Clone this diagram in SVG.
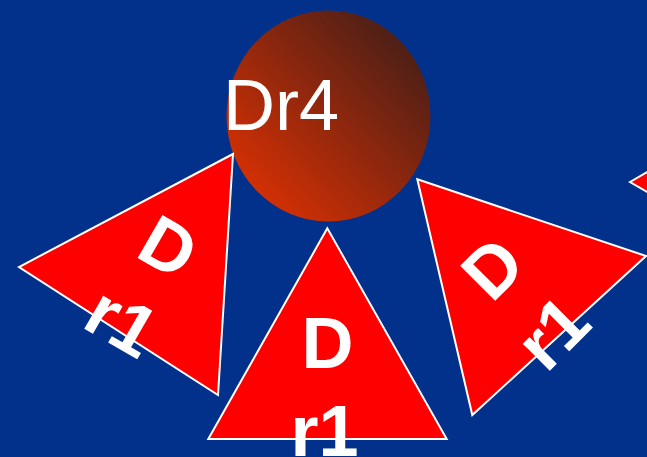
<svg xmlns="http://www.w3.org/2000/svg" width="647" height="457" viewBox="0 0 647 457">
<defs>
<linearGradient id="ball" x1="0" y1="1" x2="1" y2="0">
<stop offset="0" stop-color="#ee3300"/>
<stop offset="1" stop-color="#331c1a"/>
</linearGradient>
<style>
.tri{fill:#ff0000;stroke:#ffffff;stroke-width:2;stroke-linejoin:miter}
.lbl{font-family:"Liberation Sans",Arial,sans-serif;font-weight:bold;font-size:72px;fill:#ffffff;text-anchor:middle}
.big{font-family:"Liberation Sans",Arial,sans-serif;font-size:72px;fill:#ffffff}
</style>
</defs>
<rect x="0" y="0" width="647" height="457" fill="#01318b"/>
<g id="connectors"></g>
<g id="dr4">
<ellipse cx="328.5" cy="116" rx="102" ry="105.5" fill="url(#ball)"/>
<text class="big" x="223" y="130">Dr4</text>
</g>
<g id="tri-left">
<polygon class="tri" points="233,154 19,267 218,395"/>
<g transform="translate(169,246) rotate(30)">
<text class="lbl" x="0" y="26">D</text>
<text class="lbl" x="-3" y="114">r1</text>
</g>
</g>
<g id="tri-mid">
<polygon class="tri" points="327.3,228.3 208.3,439 446.7,439"/>
<g transform="translate(327.5,341.5)">
<text class="lbl" x="0" y="26">D</text>
<text class="lbl" x="-3" y="114">r1</text>
</g>
</g>
<g id="tri-right">
<polygon class="tri" points="417.3,179.3 646,256 472.3,415"/>
<g transform="translate(491.7,267.5) rotate(-45)">
<text class="lbl" x="0" y="26">D</text>
<text class="lbl" x="-3" y="114">r1</text>
</g>
</g>
<g id="tri-edge">
<polygon class="tri" points="630,182 830,66 830,298"/>
</g>
</svg>
